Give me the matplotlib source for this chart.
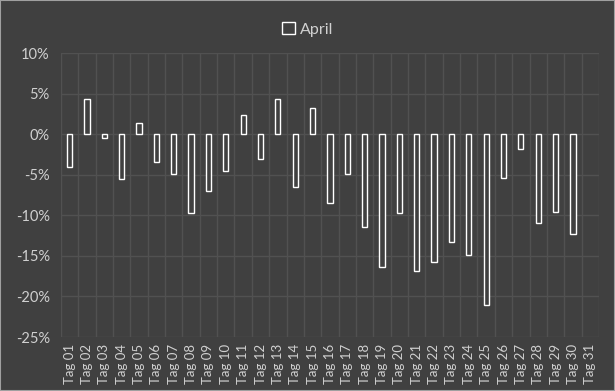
import matplotlib.pyplot as plt
from matplotlib.ticker import FuncFormatter, MultipleLocator
import numpy as np

days = [f"Tag {i:02d}" for i in range(1, 32)]
april = [-4.0, 4.35, -0.5, -5.5, 1.35, -3.4, -4.9, -9.7, -7.0, -4.5,
         2.4, -3.0, 4.3, -6.5, 3.2, -8.5, -4.9, -11.4, -16.4, -9.7,
         -16.9, -15.8, -13.3, -14.9, -21.0, -5.4, -1.8, -11.0, -9.6, -12.3,
         np.nan]

bg = "#404040"
fg = "#d0d0d0"
grid = "#515151"

plt.rcParams["font.family"] = ["Lato", "DejaVu Sans"]

fig = plt.figure(figsize=(6.15, 3.91), dpi=100, facecolor=bg)
ax = fig.add_axes([0.099, 0.138, 0.875, 0.726], facecolor=bg)

x = np.arange(len(days))
ax.bar(x, april, width=0.3, color=bg, edgecolor="white", linewidth=1.0,
       label="April", zorder=3)

ax.set_xlim(-0.5, len(days) - 0.5)
ax.set_ylim(-25, 10)
ax.yaxis.set_major_locator(MultipleLocator(5))
ax.yaxis.set_major_formatter(FuncFormatter(lambda v, p: f"{v:.0f}%"))
ax.set_xticks(x)
ax.set_xticklabels(days, rotation=90)
ax.set_xticks(np.arange(-0.5, len(days), 1), minor=True)

ax.grid(axis="y", which="major", color=grid, linewidth=1.0, zorder=0)
ax.grid(axis="x", which="minor", color=grid, linewidth=1.0, zorder=0)
ax.tick_params(axis="both", which="both", length=0, colors=fg)
ax.tick_params(axis="y", labelsize=10.5, pad=8)
ax.tick_params(axis="x", labelsize=9.5, pad=5)
for s in ax.spines.values():
    s.set_visible(False)

leg = fig.legend(loc="upper center", bbox_to_anchor=(0.5, 0.98), frameon=False,
                 fontsize=11.5, handlelength=0.8, handleheight=0.8, handletextpad=0.3)
for t in leg.get_texts():
    t.set_color(fg)

fig.patches.append(plt.Rectangle((0, 0), 1, 1, transform=fig.transFigure,
                                 fill=False, edgecolor="#a0a0a0", linewidth=1.5))

fig.savefig("out.png", dpi=100, facecolor=bg)
